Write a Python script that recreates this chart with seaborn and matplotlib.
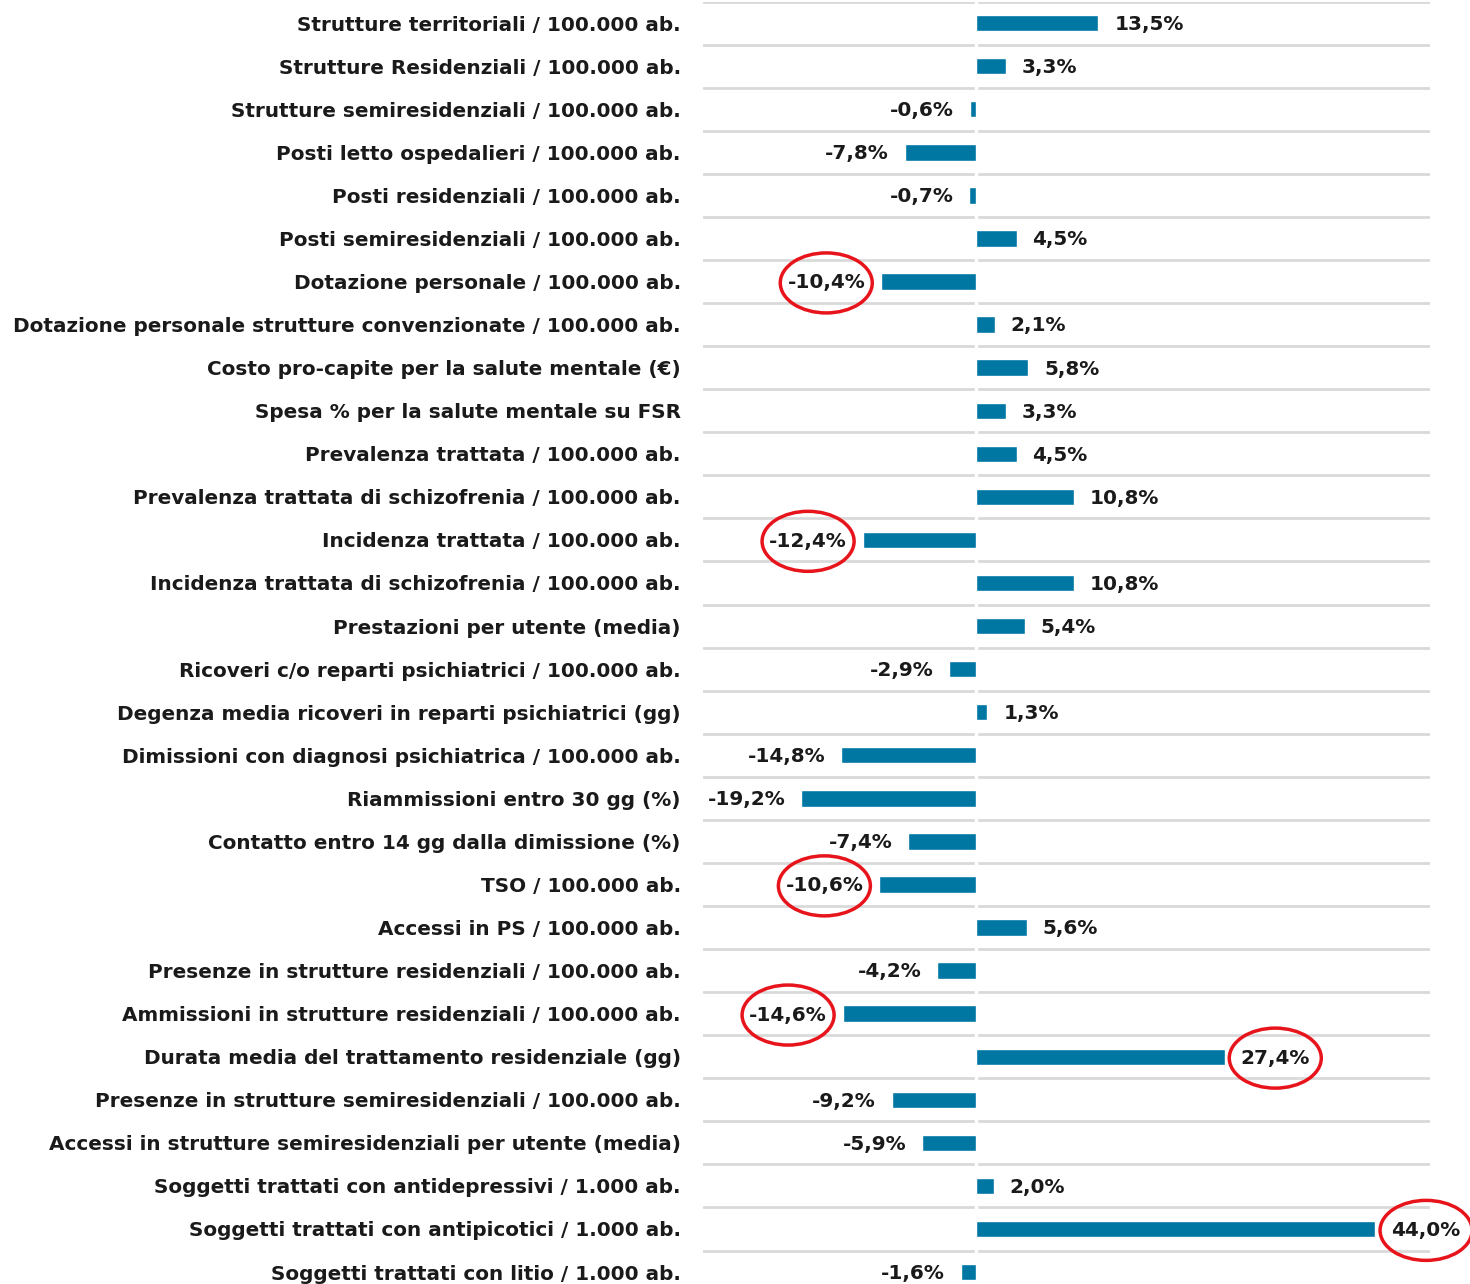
import numpy as np
import pandas as pd
import seaborn as sns
import matplotlib.pyplot as plt
from matplotlib.patches import Ellipse
from matplotlib.ticker import FixedLocator

# ==========================
# DATA
# ==========================

indicatori = [
    "Strutture territoriali / 100.000 ab.",
    "Strutture Residenziali / 100.000 ab.",
    "Strutture semiresidenziali / 100.000 ab.",
    "Posti letto ospedalieri / 100.000 ab.",
    "Posti residenziali / 100.000 ab.",
    "Posti semiresidenziali / 100.000 ab.",
    "Dotazione personale / 100.000 ab.",
    "Dotazione personale strutture convenzionate / 100.000 ab.",
    "Costo pro-capite per la salute mentale (€)",
    "Spesa % per la salute mentale su FSR",
    "Prevalenza trattata / 100.000 ab.",
    "Prevalenza trattata di schizofrenia / 100.000 ab.",
    "Incidenza trattata / 100.000 ab.",
    "Incidenza trattata di schizofrenia / 100.000 ab.",
    "Prestazioni per utente (media)",
    "Ricoveri c/o reparti psichiatrici / 100.000 ab.",
    "Degenza media ricoveri in reparti psichiatrici (gg)",
    "Dimissioni con diagnosi psichiatrica / 100.000 ab.",
    "Riammissioni entro 30 gg (%)",
    "Contatto entro 14 gg dalla dimissione (%)",
    "TSO / 100.000 ab.",
    "Accessi in PS / 100.000 ab.",
    "Presenze in strutture residenziali / 100.000 ab.",
    "Ammissioni in strutture residenziali / 100.000 ab.",
    "Durata media del trattamento residenziale (gg)",
    "Presenze in strutture semiresidenziali / 100.000 ab.",
    "Accessi in strutture semiresidenziali per utente (media)",
    "Soggetti trattati con antidepressivi / 1.000 ab.",
    "Soggetti trattati con antipicotici / 1.000 ab.",
    "Soggetti trattati con litio / 1.000 ab.",
]

variazione = [
    13.5, 3.3, -0.6, -7.8, -0.7, 4.5, -10.4, 2.1, 5.8, 3.3,
    4.5, 10.8, -12.4, 10.8, 5.4, -2.9, 1.3, -14.8, -19.2, -7.4,
    -10.6, 5.6, -4.2, -14.6, 27.4, -9.2, -5.9, 2.0, 44.0, -1.6,
]

# indicators circled in red
evidenziati = [6, 12, 20, 23, 24, 28]

df = pd.DataFrame({"indicatore": indicatori, "variazione": variazione})

# ==========================
# STYLE
# ==========================

BAR_COLOR = "#0076A3"
TEXT_COLOR = "#1A1A1A"
GRID_COLOR = "#D9D9D9"
FONT_SIZE = 14.4

sns.set_style("white")
plt.rcParams["font.family"] = ["DejaVu Sans"]

# ==========================
# PLOT
# ==========================

W, H = 1470, 1284
fig = plt.figure(figsize=(W / 100, H / 100), dpi=100)
ax = fig.add_axes([703 / W, (H - 1293.6) / H, (1430 - 703) / W, 1292 / H])

sns.barplot(data=df, y="indicatore", x="variazione", color=BAR_COLOR,
            width=0.38, saturation=1, ax=ax, zorder=3)

ax.set_xlim(-30, 50)
ax.set_ylim(len(indicatori) - 0.5, -0.5)
ax.set_xlabel("")
ax.set_ylabel("")
ax.set_xticks([])
sns.despine(ax=ax, left=True, bottom=True)

# row separators
ax.yaxis.set_minor_locator(FixedLocator(np.arange(-0.5, len(indicatori), 1)))
ax.grid(which="minor", axis="y", color=GRID_COLOR, linewidth=2)
ax.grid(which="major", visible=False)
ax.tick_params(axis="y", which="both", length=0, pad=16)
ax.axvline(0, color="white", linewidth=2.5, zorder=2)

for lbl in ax.get_yticklabels():
    lbl.set_fontsize(FONT_SIZE)
    lbl.set_fontweight("bold")
    lbl.set_color(TEXT_COLOR)

# value labels
etichette = []
for i, v in enumerate(variazione):
    testo = f"{v:.1f}%".replace(".", ",")
    off = 11.5 if v >= 0 else -11.5
    ann = ax.annotate(testo, xy=(v, i), xytext=(off, -1), textcoords="offset points",
                      ha="left" if v >= 0 else "right", va="center",
                      fontsize=FONT_SIZE, fontweight="bold", color=TEXT_COLOR, zorder=4)
    etichette.append(ann)

# red ellipses around highlighted values
fig.canvas.draw()
inv = ax.transData.inverted()
for i in evidenziati:
    bb = etichette[i].get_window_extent()
    cx, cy = inv.transform(((bb.x0 + bb.x1) / 2, (bb.y0 + bb.y1) / 2))
    x0, y0 = inv.transform((0, 0))
    x1, y1 = inv.transform((92, 60))
    ax.add_patch(Ellipse((cx, cy), abs(x1 - x0), abs(y1 - y0), fill=False,
                         edgecolor="#E8141B", linewidth=2.5, clip_on=False, zorder=5))

fig.savefig("out.png", dpi=100)
